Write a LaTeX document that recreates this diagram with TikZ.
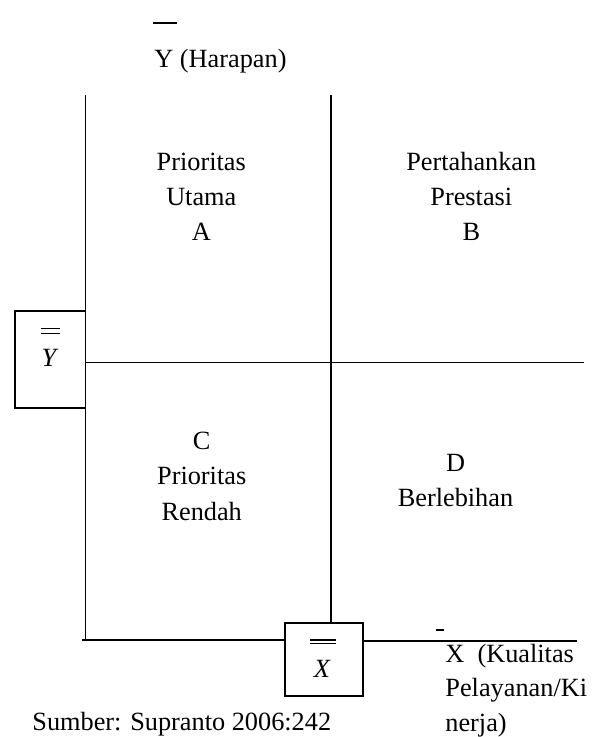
\documentclass[tikz,border=0pt]{standalone}
\usepackage{fontspec}
\setmainfont{Liberation Serif}
\usetikzlibrary{positioning}
\newcommand{\quadfont}{\fontsize{13.15}{17.65}\selectfont}
\newcommand{\axisfont}{\fontsize{13.15}{17.25}\selectfont}

\begin{document}
\begin{tikzpicture}[x=0.5pt, y=-0.5pt,
    axisline/.style={line width=0.9pt},
    quadtext/.style={align=center, anchor=base, inner sep=0pt, font=\quadfont},
    axistext/.style={align=left, anchor=base west, inner sep=0pt, font=\axisfont},
    meanbox/.style={draw, line width=0.9pt, inner sep=0pt},
    meanletter/.style={anchor=base, inner sep=0pt, font=\quadfont\itshape}]
    \useasboundingbox (0,0) rectangle (598,737);
    \clip (0,0) rectangle (598,737);

    % Draw mean boxes
    \node[meanbox, minimum width=35.1pt, minimum height=48.8pt] (ybox) at (50.4, 359.5) {};
    \node[meanbox, minimum width=39pt, minimum height=36.5pt] (xbox) at (323.7, 659.2) {};
    \node[meanletter] (ybar) at (49, 366.7) {Y};
    \node[meanletter] (xbar) at (322, 677) {X};
    \draw[line width=0.6pt] (40.7, 328.3) -- (60, 328.3) (40.7, 333.3) -- (60, 333.3);
    \draw[line width=0.6pt] (310, 640) -- (336, 640) (310, 643.5) -- (336, 643.5);

    % Draw axes
    \coordinate (ytop) at (85.5, 95);
    \coordinate (ybot) at (85.5, 640);
    \coordinate (xleft) at (82, 640);
    \coordinate (xright) at (577, 641);
    \coordinate (midtop) at (331, 95);
    \coordinate (midright) at (584, 362.5);
    \draw[axisline] (ytop) -- (ybot);
    \draw[axisline] (xleft) -- (xleft -| xbox.west);
    \draw[axisline] (xbox.east |- xright) -- (xright);
    \draw[axisline] (midtop) -- (midtop |- xbox.north);
    \draw[axisline] (ybox.east |- midright) -- (midright);

    % Draw quadrant labels (anchored at the last line)
    \node[quadtext] (quadA) at (201.3, 240.7) {Prioritas\\Utama\\A};
    \node[quadtext] (quadB) at (471.3, 240.7) {Pertahankan\\Prestasi\\B};
    \node[quadtext] (quadC) at (201.7, 520) {C\\Prioritas\\Rendah};
    \node[quadtext] (quadD) at (455.5, 506.7) {D\\Berlebihan};

    % Draw axis labels
    \node[axistext] (ylabel) at (154, 68) {Y (Harapan)};
    \draw[line width=0.8pt] (153, 23) -- (177, 23);
    \node[axistext] (xlabel) at (445, 731) {X\ \ (Kualitas\\Pelayanan/Ki\\nerja)};
    \draw[line width=0.8pt] (436, 630) -- (444, 630);
    \node[axistext] (source) at (32, 730) {Sumber: Supranto 2006:242};
\end{tikzpicture}
\end{document}
